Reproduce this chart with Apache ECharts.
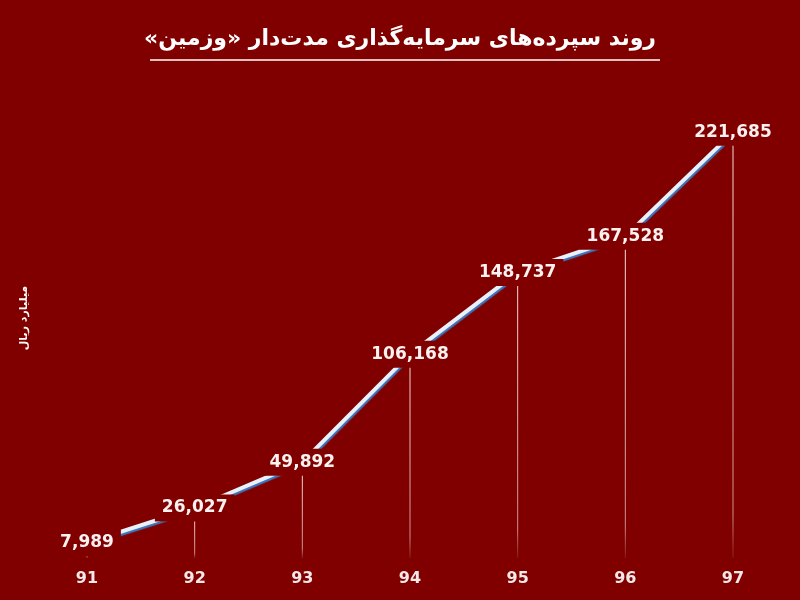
<!DOCTYPE html>
<html><head><meta charset="utf-8">
<script src="https://cdn.jsdelivr.net/npm/echarts@6/dist/echarts.min.js"></script>
<style>html,body{margin:0;padding:0;background:#800000}#c{width:800px;height:600px}</style>
</head><body><div id="c"></div>
<script>
const years = ['91','92','93','94','95','96','97'];
const deposits = [7989, 26027, 49892, 106168, 148737, 167528, 221685];
const titleText = 'روند سپرده‌های سرمایه‌گذاری مدت‌دار «وزمین»';
const unitText = 'میلیارد ریال';

const chart = echarts.init(document.getElementById('c'));
chart.setOption({
  backgroundColor: '#800000',
  animation: false,
  title: {
    text: '\u202B' + titleText + '\u202C', left: 'center', top: 23,
    textStyle: {color: '#ffffff', fontSize: 22, fontWeight: 'bold', fontFamily: 'DejaVu Sans'}
  },
  graphic: [{
    type: 'line', shape: {x1: 150, y1: 60, x2: 660, y2: 60},
    style: {stroke: '#ffffff', lineWidth: 1.5}
  }],
  grid: {left: 87, right: 67, top: 78, bottom: 42},
  xAxis: {
    type: 'category', data: years, boundaryGap: false,
    axisLine: {show: false}, axisTick: {show: false},
    axisLabel: {color: '#f4e8e8', fontSize: 16, fontWeight: 'bold', margin: 13, fontFamily: 'DejaVu Sans'}
  },
  yAxis: {
    type: 'value', min: 0, max: 250000,
    axisLine: {show: false}, axisTick: {show: false}, axisLabel: {show: false}, splitLine: {show: false},
    name: '\u202B' + unitText + '\u202C', nameLocation: 'middle', nameGap: 57, nameRotate: 90,
    nameTextStyle: {color: '#ffffff', fontSize: 11, fontWeight: 'bold', fontFamily: 'DejaVu Sans'}
  },
  series: [
    {
      type: 'bar', data: deposits, barWidth: 1, z: 1,
      itemStyle: {color: new echarts.graphic.LinearGradient(0, 0, 0, 1, [
        {offset: 0, color: 'rgba(255,235,235,0.95)'},
        {offset: 0.9, color: 'rgba(255,235,235,0.6)'},
        {offset: 1, color: 'rgba(255,235,235,0.1)'}
      ])},
      silent: true
    },
    {
      type: 'line', data: deposits, z: 3, symbol: 'circle', symbolSize: 2, showSymbol: true,
      itemStyle: {color: 'rgba(0,0,0,0)', borderWidth: 0},
      lineStyle: {width: 4, color: '#e8f0fa', shadowColor: '#3f78c0', shadowOffsetX: 1, shadowOffsetY: 2, shadowBlur: 1},
      label: {
        show: true, position: 'inside',
        formatter: p => p.value.toLocaleString('en-US'),
        color: '#fbf1f1', fontSize: 17, fontWeight: 'bold', fontFamily: 'DejaVu Sans',
        backgroundColor: '#800000', padding: [5, 7, 5, 7]
      }
    }
  ]
});
</script></body></html>
